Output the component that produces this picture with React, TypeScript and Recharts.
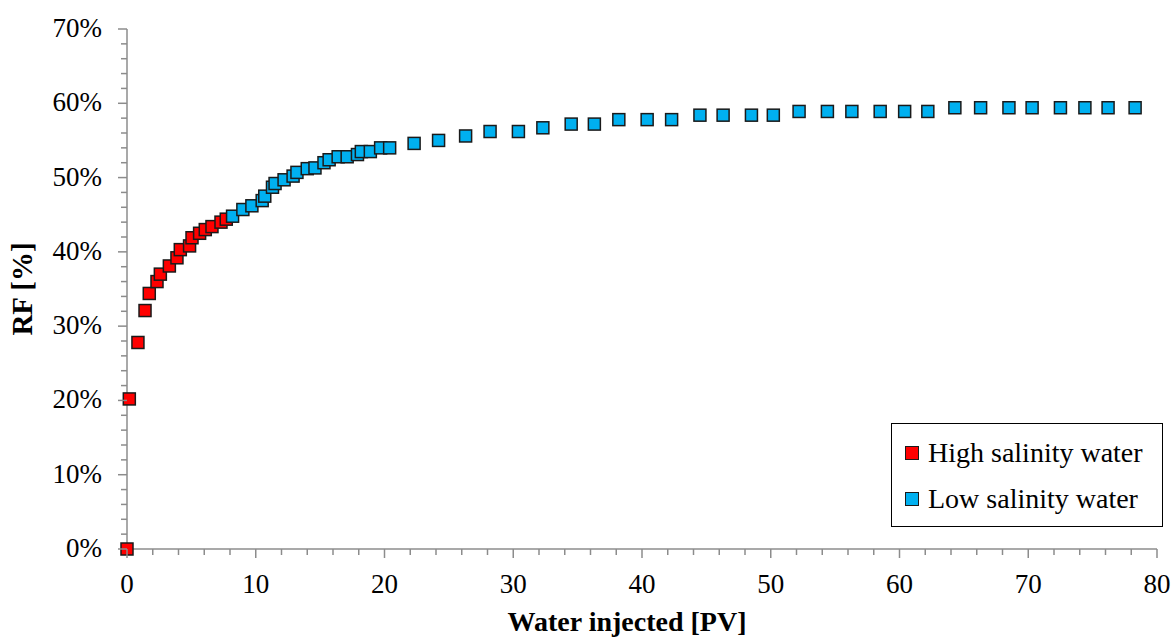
import { ScatterChart, Scatter, XAxis, YAxis, Legend, Label } from 'recharts'

document.body.style.margin = '0'

// Water injected [PV] / RF [%]
const HS_X = [0, 0.18, 0.85, 1.4, 1.73, 2.33, 2.59, 3.29, 3.88, 4.14, 4.86, 5.05, 5.64, 6.08, 6.6, 7.3, 7.71]
const HS_RF = [0, 20.2, 27.8, 32.1, 34.4, 36.0, 37.0, 38.1, 39.2, 40.3, 40.8, 41.9, 42.5, 43.0, 43.4, 44.0, 44.4]

const LS_X = [
  8.2, 9.0, 9.7, 10.5, 10.7, 11.3, 11.5, 12.2, 12.9, 13.2, 14.0, 14.6, 15.3, 15.7, 16.4, 17.1, 17.9, 18.2, 18.9, 19.7,
  20.4, 22.3, 24.2, 26.3, 28.2, 30.4, 32.3, 34.5, 36.3, 38.2, 40.4, 42.3, 44.5, 46.3, 48.5, 50.2, 52.2, 54.4, 56.3,
  58.5, 60.4, 62.2, 64.3, 66.3, 68.5, 70.3, 72.5, 74.4, 76.2, 78.3,
]
const LS_RF = [
  44.8, 45.7, 46.2, 46.9, 47.5, 48.7, 49.2, 49.7, 50.2, 50.7, 51.2, 51.3, 52.0, 52.4, 52.8, 52.8, 53.1, 53.5, 53.5, 54.0,
  54.0, 54.6, 55.0, 55.6, 56.2, 56.2, 56.7, 57.2, 57.2, 57.8, 57.8, 57.8, 58.4, 58.4, 58.4, 58.4, 58.9, 58.9, 58.9,
  58.9, 58.9, 58.9, 59.4, 59.4, 59.4, 59.4, 59.4, 59.4, 59.4, 59.4,
]

const X_TICKS = Array.from({ length: 41 }, (_, i) => i * 2)
const Y_TICKS = Array.from({ length: 36 }, (_, i) => i * 2)

const highData = HS_X.map((pv, i) => ({ pv, rf: HS_RF[i] }))
const lowData = LS_X.map((pv, i) => ({ pv, rf: LS_RF[i] }))

const FONT = '"Liberation Serif", "Times New Roman", serif'
const AXIS_COLOR = '#8c8c8c'

const Square = (props: any) => (
  <rect x={props.cx - 6} y={props.cy - 6} width={12} height={12} fill={props.fill} stroke="#1a1a1a" strokeWidth={1.5} />
)

const XTick = ({ x, y, payload }: any) => {
  const major = payload.value % 10 === 0
  return (
    <g>
      <line x1={x} y1={y} x2={x} y2={y + (major ? 9 : 6)} stroke={AXIS_COLOR} strokeWidth={1.5} />
      {major && (
        <text x={x} y={y + 44} textAnchor="middle" fontFamily={FONT} fontSize={27} fill="#000">
          {payload.value}
        </text>
      )}
    </g>
  )
}

const YTick = ({ x, y, payload }: any) => {
  const major = payload.value % 10 === 0
  return (
    <g>
      <line x1={x - (major ? 9 : 6)} y1={y} x2={x} y2={y} stroke={AXIS_COLOR} strokeWidth={1.5} />
      {major && (
        <text x={x - 25} y={y + 8} textAnchor="end" fontFamily={FONT} fontSize={27} fill="#000">
          {payload.value}%
        </text>
      )}
    </g>
  )
}

const LegendBox = ({ payload }: any) => (
  <div
    style={{
      width: 272,
      height: 104,
      boxSizing: 'border-box',
      border: '1.5px solid #000',
      background: '#fff',
      fontFamily: FONT,
      fontSize: 28,
      color: '#000',
      paddingTop: 6,
    }}
  >
    {(payload || []).map((p: any) => (
      <div key={p.value} style={{ display: 'flex', alignItems: 'center', height: 46, paddingLeft: 13 }}>
        <span
          style={{
            display: 'inline-block',
            width: 12,
            height: 12,
            background: p.color,
            border: '1.5px solid #1a1a1a',
            marginRight: 9,
          }}
        />
        {p.value}
      </div>
    ))}
  </div>
)

export default function App() {
  return (
    <ScatterChart width={1174} height={639} margin={{ top: 29, right: 17, bottom: 0, left: 0 }}>
      <XAxis
        type="number"
        dataKey="pv"
        domain={[0, 80]}
        ticks={X_TICKS}
        interval={0}
        height={90}
        tickSize={0}
        tickMargin={0}
        tickLine={false}
        tick={<XTick />}
        axisLine={{ stroke: AXIS_COLOR, strokeWidth: 1.5 }}
      >
        <Label
          content={({ viewBox }: any) => (
            <text
              x={viewBox.x + viewBox.width / 2 - 15}
              y={viewBox.y + 82}
              textAnchor="middle"
              fontFamily={FONT}
              fontWeight="bold"
              fontSize={28}
              fill="#000"
            >
              Water injected [PV]
            </text>
          )}
        />
      </XAxis>
      <YAxis
        type="number"
        dataKey="rf"
        domain={[0, 70]}
        ticks={Y_TICKS}
        interval={0}
        width={127}
        tickSize={0}
        tickMargin={0}
        tickLine={false}
        tick={<YTick />}
        axisLine={{ stroke: AXIS_COLOR, strokeWidth: 1.5 }}
      >
        <Label
          content={({ viewBox }: any) => {
            const cx = viewBox.x + 32
            const cy = viewBox.y + viewBox.height / 2
            return (
              <text
                x={cx}
                y={cy}
                transform={`rotate(-90 ${cx} ${cy})`}
                textAnchor="middle"
                fontFamily={FONT}
                fontWeight="bold"
                fontSize={29}
                fill="#000"
              >
                RF [%]
              </text>
            )
          }}
        />
      </YAxis>
      <Legend
        layout="horizontal"
        verticalAlign="middle"
        align="center"
        content={<LegendBox />}
        wrapperStyle={{ position: 'absolute', left: 891, top: 423, width: 272, height: 104 }}
      />
      <Scatter name="High salinity water" data={highData} fill="#ff0000" shape={Square} isAnimationActive={false} />
      <Scatter name="Low salinity water" data={lowData} fill="#00b0f0" shape={Square} isAnimationActive={false} />
    </ScatterChart>
  )
}
